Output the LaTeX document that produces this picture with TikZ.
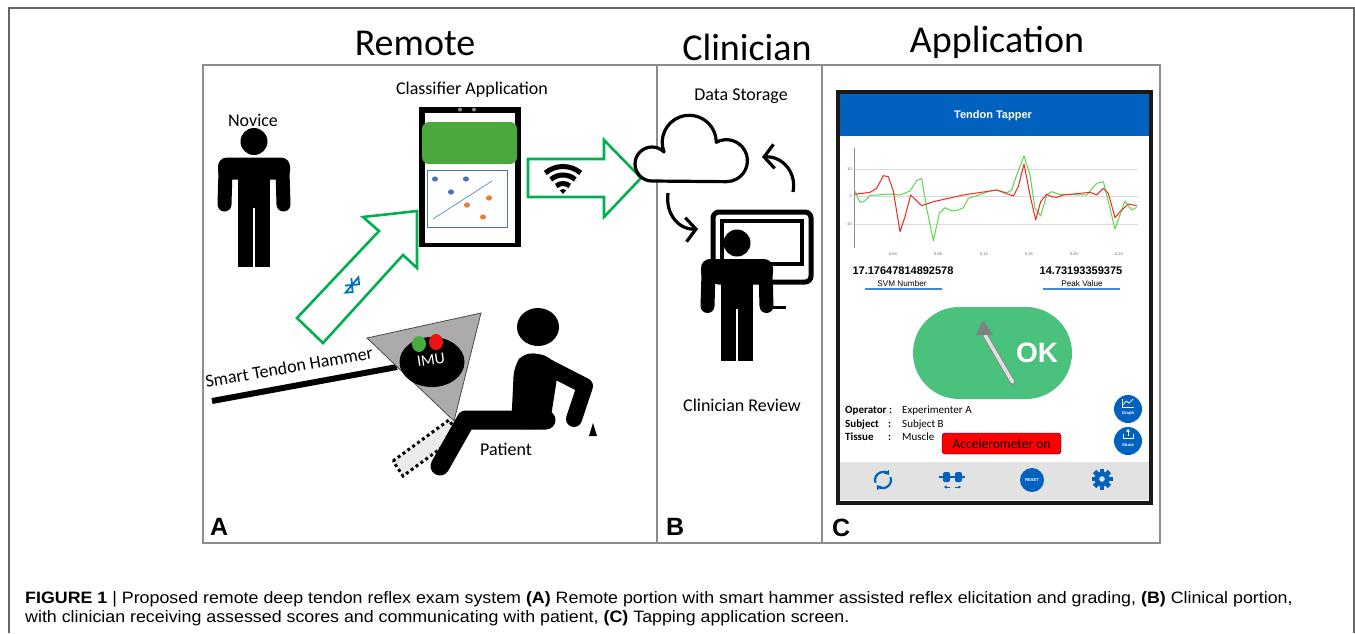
\documentclass[tikz,border=0pt]{standalone}
\usepackage{fontspec}
\setmainfont{Carlito}
\newfontfamily\appfont{Liberation Sans}
\newfontfamily\capfont[FakeStretch=1.08]{Liberation Sans}
\usetikzlibrary{arrows.meta}

\definecolor{framegray}{RGB}{140,140,140}
\definecolor{arrowgreen}{RGB}{0,176,80}
\definecolor{tabgreen}{RGB}{74,168,60}
\definecolor{btblue}{RGB}{0,112,192}
\definecolor{scatblue}{RGB}{68,114,196}
\definecolor{scatline}{RGB}{91,155,213}
\definecolor{scatorange}{RGB}{237,125,49}
\definecolor{hammergray}{RGB}{172,170,170}
\definecolor{imugreen}{RGB}{70,170,60}
\definecolor{imured}{RGB}{235,20,20}
\definecolor{appblue}{RGB}{0,97,191}
\definecolor{okgreen}{RGB}{74,194,126}
\definecolor{linkblue}{RGB}{60,140,215}
\definecolor{barbg}{RGB}{226,226,226}
\definecolor{plotred}{RGB}{240,40,30}
\definecolor{plotgreen}{RGB}{95,215,75}

\tikzset{
  panel/.style={draw=framegray, line width=2.4},
  lbl/.style={inner sep=0pt, anchor=base, font=\fontsize{18}{20}\selectfont},
  headline/.style={inner sep=0pt, anchor=base, font=\fontsize{38}{40}\selectfont},
  letter/.style={inner sep=0pt, anchor=base west, font=\appfont\bfseries\fontsize{25}{26}\selectfont},
  blockarrow/.style={draw=arrowgreen, line width=2.6, line join=miter},
  flow/.style={line width=3.2, -{Straight Barb[length=10pt,width=24pt]}},
  ticklbl/.style={inner sep=0pt, text=black!60, font=\appfont\fontsize{4}{4}\selectfont},
  numtxt/.style={inner sep=0pt, font=\appfont\bfseries\fontsize{11}{12}\selectfont},
  smalltxt/.style={inner sep=0pt, font=\appfont\fontsize{8.2}{9}\selectfont},
  infotxt/.style={inner sep=0pt, anchor=base west, font=\fontsize{11}{12}\selectfont},
  infohead/.style={infotxt, font=\bfseries\fontsize{11}{12}\selectfont},
  roundbtn/.style={circle, fill=appblue, inner sep=0pt, minimum size=28pt},
  tinytxt/.style={inner sep=0pt, text=white, font=\appfont\bfseries\fontsize{4.2}{5}\selectfont},
  % standing figure, #1 = bottom of the legs below the head centre
  pics/person/.style={code={
    \fill (0,0) circle (13.5);
    \fill[rounded corners=9pt] (-36,16) rectangle (36,38);
    \fill (-16,30) rectangle (16,66);
    \draw[line width=14pt, line cap=round] (-28.5,30) -- (-29.5,63);
    \draw[line width=14pt, line cap=round] (28.5,30) -- (29.5,63);
    \fill (-16,62) rectangle (-1.2,#1);
    \fill (1.2,62) rectangle (16,#1);
  }}
}

\begin{document}
\begin{tikzpicture}[x=1pt, y=-1pt]
\useasboundingbox (0,0) rectangle (1355,633);

% page frame, open at the bottom
\draw[black!60, line width=1.5] (9,633) -- (9,8) -- (1354,8) -- (1354,633);

\node[headline] (remote) at (415,55) {Remote};
\node[headline] (clinician) at (747,60) {Clinician};
\node[headline] (application) at (997,52) {Application};

\draw[panel] (203,65) rectangle (1160,543);
\draw[panel] (657,65) -- (657,543);
\draw[panel] (822,65) -- (822,543);

%% A: remote side
\node[lbl] (novice) at (253,126) {Novice};
\pic at (254,141.5) {person=125};

\node[lbl] (classifier) at (472,94) {Classifier Application};

% bluetooth link up to the tablet
\draw[blockarrow] (297,318) -- (379,231) -- (363,217) -- (417,211) -- (417,268) -- (403,255) -- (323,343) -- cycle;
\begin{scope}[shift={(352,285)}, rotate=-40]
  \draw[btblue, line width=1.8, line join=miter] (-5,-5) -- (5,5) -- (0,10) -- (0,-10) -- (5,-5) -- (-5,5);
\end{scope}

% tablet
\fill (419,107) rectangle (521,247);
\fill[white] (425,113) rectangle (515,243);
\fill[black!45] (460,109.5) circle (2) (474,109.5) circle (2);
\fill[tabgreen, rounded corners=7pt] (422,122) rectangle (517,164);
\draw[scatblue, line width=1] (427,170) rectangle (507,227);
\draw[scatline, line width=0.8] (433,219) -- (492,181);
\foreach \p in {(435,179),(466,179),(451,192)}
  \fill[scatblue] \p ellipse (3 and 2.6);
\foreach \p in {(489,198),(467,205),(483,217)}
  \fill[scatorange] \p ellipse (3 and 2.6);

% wifi link to the cloud
\draw[blockarrow] (528,159) -- (604,159) -- (604,140) -- (641,178) -- (604,217) -- (604,197) -- (528,197) -- cycle;
\fill (563,194) -- ++(-50:5) arc[start angle=-50, end angle=-130, radius=5] -- cycle;
\foreach \r in {10.5,19,27.5}
  \draw[line width=5] (563,194) ++(-50:\r) arc[start angle=-50, end angle=-130, radius=\r];

% hammer
\draw[line width=6] (212,401) -- (397,367);
\filldraw[fill=hammergray, draw=black!70, line width=0.8] (367,338) -- (481,313) -- (454,421) -- cycle;
\fill (432,362) ellipse (32.5 and 25);
\fill[imugreen] (419,344) ellipse (7 and 8);
\fill[imured] (436,342) ellipse (7 and 8);
\node[inner sep=0pt, text=white, rotate=8, font=\fontsize{16}{16}\selectfont] (imu) at (431,360) {IMU};
\node[lbl, anchor=center, rotate=10] (hammer) at (289,367) {Smart Tendon Hammer};

% leg before the tap
\filldraw[fill=black!8, line width=3, dash pattern=on 3pt off 3pt] (393,461) -- (449,420) -- (459,435) -- (403,476) -- cycle;

% seated patient
\fill (538,327) ellipse (21 and 19);
\fill[rounded corners=10pt] (524,352) -- (551,356) -- (558,372) -- (549,429) -- (511,429) -- (514,366) -- cycle;
\draw[line width=19, line cap=round, line join=round] (546,420) -- (466,420) -- (440,466);
\draw[line width=16, line cap=round, line join=round] (546,366) -- (585,386) -- (574,419);
\fill (589,436) -- (597,436) -- (593,423) -- cycle;
\node[lbl] (patient) at (506,455) {Patient};

%% B: clinician side
\node[lbl] (storage) at (741,100) {Data Storage};

% cloud
\filldraw[fill=white, line width=3.2, line join=round]
  (652,181) arc[start angle=90, end angle=315, radius=17]
  arc[start angle=159, end angle=360, radius=27]
  arc[start angle=241, end angle=450, radius=21] -- cycle;

% screen with the clinician in front
\draw[line width=5, rounded corners=6pt] (713,212) rectangle (811,282);
\draw[line width=3.5] (722,221) rectangle (802,264);
\pic at (737,243) {person=118};
\draw[line width=3] (772,307) -- (786,307);

\coordinate (cloud out) at (668,193);
\coordinate (screen in) at (698,229);
\coordinate (screen out) at (793,192);
\coordinate (cloud in) at (762,157);
\draw[flow] (cloud out) .. controls +(-3,22) and +(-18,1) .. (screen in);
\draw[flow] (screen out) .. controls +(4,-20) and +(20,-1) .. (cloud in);

\node[lbl] (review) at (742,411) {Clinician Review};

%% C: tapping application
\fill[black!90] (836,90) rectangle (1153,505);
\fill[white] (840,94) rectangle (1149,501);
\fill[appblue] (840,94) rectangle (1149,136);
\node[inner sep=0pt, text=white, font=\appfont\bfseries\fontsize{11}{12}\selectfont] (tapper) at (993,116) {Tendon Tapper};

% chart
\draw[black!15, line width=0.6] (854,169) -- (1138,169) (854,196) -- (1138,196) (854,224) -- (1138,224);
\draw[black!45, line width=0.6] (854,148) -- (854,248);
\foreach \v/\y in {10/169, 0/196, -10/224}
  \node[ticklbl, anchor=east] (ty\y) at (852,\y) {\v};
\foreach \t/\x in {0.04/893, 0.08/938, 0.12/984, 0.16/1029, 0.20/1074, 0.24/1119}
  \node[ticklbl] (tx\x) at (\x,254) {\t};
\begin{scope}[shift={(830,85)}, scale=1/3]
  \draw[plotgreen, line width=1, line join=round] plot coordinates {
    (73,315) (90,352) (105,348) (120,330) (140,330) (180,327) (210,330) (240,318)
    (260,287) (275,280) (290,370) (310,467) (328,385) (345,368) (365,378) (385,375)
    (400,368) (415,340) (440,332) (480,318) (500,315) (530,323) (545,315) (560,270)
    (582,213) (600,270) (615,370) (632,393) (650,330) (665,320) (690,328) (770,330)
    (800,295) (820,290) (835,350) (855,432) (870,390) (885,348) (905,375) (920,367)};
  \draw[plotred, line width=1, line join=round] plot coordinates {
    (73,328) (120,322) (140,310) (160,272) (175,275) (190,318) (210,440) (225,395)
    (242,330) (275,362) (310,350) (400,330) (500,315) (550,333) (565,305) (582,237)
    (600,330) (617,405) (632,350) (650,328) (665,335) (680,337) (700,330) (780,322)
    (800,330) (820,310) (835,325) (855,398) (870,380) (895,357) (920,362)};
\end{scope}

\node[numtxt] (svm) at (903,271) {17.17647814892578};
\node[numtxt] (peak) at (1081,271) {14.73193359375};
\node[smalltxt] (svm label) at (902,284) {SVM Number};
\node[smalltxt] (peak label) at (1082,284) {Peak Value};
\draw[linkblue, line width=1.6] (865,289) -- (942,289);
\draw[linkblue, line width=1.6] (1043,289) -- (1120,289);

% OK gauge
\fill[okgreen, rounded corners=46pt] (913,307) rectangle (1072,399);
\draw[black!45, line width=5.5, line cap=round] (985,335) -- (1013,383);
\draw[black!12, line width=3.5, line cap=round] (985,335) -- (1012.5,382);
\fill[black!50] (983,320.5) -- (975.5,335.5) -- (993,334.5) -- cycle;
\node[inner sep=0pt, text=white, font=\appfont\bfseries\fontsize{28}{28}\selectfont] (ok) at (1037,353) {OK};

\node[infohead] (operator) at (845,413) {Operator :};
\node[infotxt] (operator val) at (902,413) {Experimenter A};
\node[infohead] (subject) at (845,427) {Subject};
\node[infohead] (subject colon) at (888,427) {:};
\node[infotxt] (subject val) at (902,427) {Subject B};
\node[infohead] (tissue) at (845,440) {Tissue};
\node[infohead] (tissue colon) at (888,440) {:};
\node[infotxt] (tissue val) at (902,440) {Muscle};

\node[draw=black!60!blue, fill=red, rounded corners=3pt, minimum width=119pt, minimum height=21pt, inner sep=0pt, font=\fontsize{13.5}{14}\selectfont] (accel) at (1001.5,443.5) {Accelerometer on};

\node[roundbtn] (graph) at (1128,409) {};
\draw[white, line width=0.7] (1122,399) -- (1122,407) -- (1134,407);
\draw[white, line width=0.7] (1123,405) -- (1126,401) -- (1129,403) -- (1133,399);
\node[tinytxt] (graph label) at (1128,413) {Graph};
\node[roundbtn] (share) at (1128,441) {};
\draw[white, line width=0.9] (1123,434) -- (1123,438) -- (1133,438) -- (1133,434);
\draw[white, line width=0.9, -{Triangle[length=2.5pt,width=3.5pt]}] (1128,436) -- (1128,429);
\node[tinytxt] (share label) at (1128,445) {Share};

% bottom toolbar
\fill[barbg] (840,462) rectangle (1149,500);
\draw[appblue, line width=2.2, -{Triangle[length=4pt,width=6pt]}] (883,480) ++(-200:8) arc[start angle=-200, end angle=-40, radius=8];
\draw[appblue, line width=2.2, -{Triangle[length=4pt,width=6pt]}] (883,480) ++(-20:8) arc[start angle=-20, end angle=140, radius=8];
\draw[appblue, line width=1.6] (939,477) -- (965,477);
\fill[appblue, rounded corners=2pt] (943,472) rectangle (950,482) (955,472) rectangle (962,482);
\draw[appblue, line width=0.9, -{Triangle[length=2.5pt,width=3pt]}] (950,487) -- (944,487);
\draw[appblue, line width=0.9, -{Triangle[length=2.5pt,width=3pt]}] (955,487) -- (961,487);
\node[circle, fill=appblue, minimum size=24pt, inner sep=0pt, text=white, font=\appfont\bfseries\fontsize{4.2}{5}\selectfont] (reset) at (1032,480) {RESET};
\fill[appblue] (1102,479) circle (7.5);
\foreach \a in {0,45,...,315}
  \fill[appblue, rotate around={\a:(1102,479)}] (1099.6,468.5) rectangle (1104.4,473);
\fill[barbg] (1102,479) circle (2.8);

\node[letter] (label a) at (210,535) {A};
\node[letter] (label b) at (666,535) {B};
\node[letter] (label c) at (832,536) {C};

% caption
\node[anchor=base west, inner sep=0pt, font=\capfont\fontsize{16.5}{18}\selectfont] (caption1) at (25,603)
  {\textbf{FIGURE 1} | Proposed remote deep tendon reflex exam system \textbf{(A)} Remote portion with smart hammer assisted reflex elicitation and grading, \textbf{(B)} Clinical portion,};
\node[anchor=base west, inner sep=0pt, font=\capfont\fontsize{16.5}{18}\selectfont] (caption2) at (25,622)
  {with clinician receiving assessed scores and communicating with patient, \textbf{(C)} Tapping application screen.};
\end{tikzpicture}
\end{document}
